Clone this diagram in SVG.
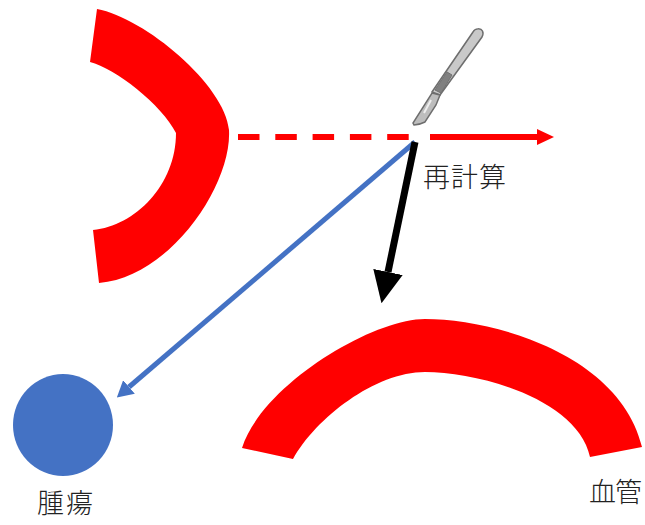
<svg xmlns="http://www.w3.org/2000/svg" width="645" height="525" viewBox="0 0 645 525">
<style>
.v{fill:#ff0000}
.t{font-family:"Noto Sans CJK JP","Noto Sans CJK SC",sans-serif;font-size:27px;font-weight:300;fill:#222}
.c{fill:none}
</style>
<defs>
<marker id="ar" markerUnits="userSpaceOnUse" markerWidth="17" markerHeight="16" refX="0" refY="8" orient="auto"><path d="M0 0L17 8L0 16Z" fill="#ff0000"/></marker>
<marker id="ab" markerUnits="userSpaceOnUse" markerWidth="16" markerHeight="18" refX="0" refY="9" orient="auto"><path d="M0 0L16 9L0 18Z" fill="#4472c4"/></marker>
<marker id="ak" markerUnits="userSpaceOnUse" markerWidth="32" markerHeight="30" refX="0" refY="15" orient="auto"><path d="M0 0L32 15L0 30Z" fill="#000"/></marker>
</defs>
<g id="vessel-left"><path class="v" d="M97 9C145 18 225 85 229 130C232 185 170 277 99 283L93 230C135 226 176 185 176 133C162 105 115 68 90 62Z"/></g>
<g id="vessel-bottom"><path class="v" d="M242 448C262 385 372 319 425 319C495 319 620 355 642 447L590 457C578 400 480 372 425 372C375 372 316 418 293 459Z"/></g>
<g id="tumor"><ellipse cx="63" cy="425" rx="50" ry="51" fill="#4472c4"/></g>
<g id="scalpel">
<path d="M473 32C475 28 481 28 482.500 31C483.500 33 483 35 482 37L440 95L432 92Z" fill="#c9c9c9" stroke="#6e6e6e" stroke-width="1.500"/>
<path d="M447 72L452 75L441 93L435 90Z" fill="#808080" stroke="#707070"/>
<path d="M432 93L440 95L436 105L425 122C421 124 417 125 414 125L413 123Z" fill="#bdbdbd" stroke="#6e6e6e" stroke-width="1.500"/>
<path d="M431 100L424 113" stroke="#eeeeee" stroke-width="2" fill="none"/>
</g>
<g id="connectors" class="c">
<path d="M238 137H409" stroke="#ff0000" stroke-width="6" stroke-dasharray="21.500 15.800"/>
<path d="M430 137H537" stroke="#ff0000" stroke-width="6" marker-end="url(#ar)"/>
<path d="M415 142L129 387" stroke="#4472c4" stroke-width="5" marker-end="url(#ab)"/>
<path d="M415 142L388 272" stroke="#000" stroke-width="7" marker-end="url(#ak)"/>
</g>
<g id="labels">
<text class="t" x="423" y="187" textLength="83">再計算</text>
<text class="t" x="37" y="513" textLength="56">腫瘍</text>
<text class="t" x="589" y="502" textLength="53">血管</text>
</g>
</svg>
